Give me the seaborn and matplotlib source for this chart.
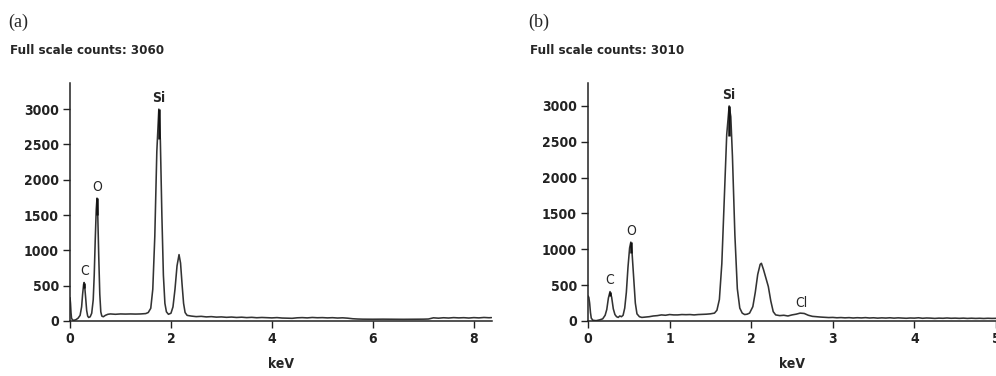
import matplotlib
matplotlib.use("Agg")
import matplotlib.pyplot as plt
from matplotlib import font_manager
import seaborn as sns

# EDS spectrum (a)
kev_a = [0.00, 0.01, 0.02, 0.03, 0.05, 0.08, 0.12, 0.16, 0.20, 0.23, 0.25, 0.27, 0.28, 0.29,
         0.31, 0.33, 0.35, 0.37, 0.40, 0.43, 0.46, 0.48, 0.50, 0.52, 0.535, 0.55, 0.57, 0.59,
         0.61, 0.63, 0.66, 0.70, 0.75, 0.80, 0.90, 1.00, 1.10, 1.20, 1.30, 1.40, 1.50, 1.55,
         1.60, 1.64, 1.68, 1.72, 1.76, 1.79, 1.82, 1.85, 1.88, 1.91, 1.95, 2.00, 2.04, 2.08,
         2.12, 2.16, 2.19, 2.22, 2.25, 2.28, 2.32,
         2.4, 2.5, 2.6, 2.7, 2.8, 2.9, 3.0, 3.1, 3.2, 3.3, 3.4, 3.5, 3.6, 3.7, 3.8, 3.9,
         4.0, 4.1, 4.2, 4.3, 4.4, 4.5, 4.6, 4.7, 4.8, 4.9, 5.0, 5.1, 5.2, 5.3, 5.4, 5.5,
         5.6, 5.7, 5.8, 6.0, 6.2, 6.4, 6.6, 6.8, 7.0, 7.1, 7.2, 7.3, 7.4, 7.5, 7.6, 7.7,
         7.8, 7.9, 8.0, 8.1, 8.2, 8.3, 8.35]
counts_a = [330, 250, 120, 40, 15, 10, 20, 40, 80, 200, 380, 520, 545, 500,
            330, 150, 70, 50, 60, 110, 300, 650, 1150, 1580, 1740, 1500, 900, 380,
            130, 70, 60, 80, 95, 100, 95, 100, 98, 100, 98, 100, 105, 120,
            180, 450, 1200, 2400, 3000, 2550, 1500, 650, 250, 130, 95, 110, 200, 450,
            780, 940, 820, 520, 250, 120, 80,
            70, 62, 66, 58, 62, 55, 58, 52, 56, 50, 54, 48, 52, 46, 50, 47,
            44, 48, 42, 40, 38, 45, 48, 44, 50, 46, 48, 44, 47, 42, 45, 40,
            32, 28, 26, 25, 26, 25, 24, 25, 26, 28, 45, 40, 46, 42, 48, 44,
            47, 42, 48, 44, 50, 46, 48]

# EDS spectrum (b)
kev_b = [0.00, 0.01, 0.02, 0.03, 0.04, 0.06, 0.10, 0.14, 0.18, 0.21, 0.23, 0.25, 0.27, 0.29,
         0.31, 0.33, 0.35, 0.37, 0.39, 0.41, 0.43, 0.45, 0.47, 0.49, 0.51, 0.525, 0.54, 0.56,
         0.58, 0.60, 0.63, 0.66, 0.70, 0.75, 0.80, 0.85, 0.90, 0.95, 1.00, 1.05, 1.10, 1.15,
         1.20, 1.25, 1.30, 1.35, 1.40, 1.45, 1.50, 1.55, 1.58, 1.61, 1.64, 1.67, 1.70, 1.73,
         1.75, 1.77, 1.80, 1.83, 1.86, 1.89, 1.92, 1.95, 1.98, 2.02, 2.05, 2.08, 2.11, 2.125,
         2.15, 2.18, 2.21, 2.24, 2.27, 2.30, 2.35, 2.40, 2.45, 2.50, 2.55, 2.60, 2.65, 2.70,
         2.75, 2.80, 2.85, 2.90, 2.95, 3.00, 3.05, 3.10, 3.15, 3.20, 3.25, 3.30, 3.35, 3.40,
         3.45, 3.50, 3.55, 3.60, 3.65, 3.70, 3.75, 3.80, 3.85, 3.90, 3.95, 4.00, 4.05, 4.10,
         4.15, 4.20, 4.25, 4.30, 4.35, 4.40, 4.45, 4.50, 4.55, 4.60, 4.65, 4.70, 4.75, 4.80,
         4.85, 4.90, 4.95, 5.00]
counts_b = [350, 330, 250, 120, 40, 10, 5, 15, 30, 80, 160, 320, 410, 330,
            170, 90, 60, 50, 70, 60, 80, 180, 400, 750, 1020, 1100, 950, 600,
            250, 100, 60, 50, 55, 60, 70, 75, 85, 80, 90, 85, 85, 90,
            88, 90, 85, 90, 92, 95, 100, 110, 150, 300, 800, 1700, 2600, 3000,
            2850, 2300, 1200, 450, 180, 110, 90, 95, 110, 200, 400, 650, 790, 805,
            720, 600, 480, 280, 130, 85, 75, 80, 70, 85, 95, 110, 105, 80,
            65, 60, 55, 52, 48, 50, 45, 48, 44, 47, 42, 46, 43, 47,
            42, 45, 40, 44, 41, 45, 40, 44, 41, 38, 42, 40, 45, 38,
            42, 40, 36, 40, 38, 42, 38, 40, 37, 40, 36, 39, 36, 38,
            35, 38, 36, 37]

panels = ["(a)", "(b)"]
full_scale = [3060, 3010]
peak_names = ["C", "O", "Si"]
peaks_a = [0.28, 0.535, 1.76]
peaks_b = [0.27, 0.525, 1.73]
xticks_a = [0, 2, 4, 6, 8]
xticks_b = [0, 1, 2, 3, 4, 5]
yticks = [0, 500, 1000, 1500, 2000, 2500, 3000]

sns.set_style("ticks")
names = {f.name for f in font_manager.fontManager.ttflist}
if "Liberation Sans Narrow" in names:
    narrow = ["Liberation Sans Narrow", "DejaVu Sans"]
    stretch = "normal"
else:
    narrow = ["DejaVu Sans", "Liberation Sans"]
    stretch = "condensed"
plt.rcParams["font.family"] = narrow
plt.rcParams["font.stretch"] = stretch

fig = plt.figure(figsize=(9.96, 3.76), dpi=100)
ax_a = fig.add_axes([70 / 996, 1 - 321 / 376, 422 / 996, 238 / 376])
ax_b = fig.add_axes([588 / 996, 1 - 321 / 376, 408 / 996, 238 / 376])

line_col = "#333333"
fsz = 10


def draw(ax, kev, counts, xmax, ymax, xticks, peaks, label, fs, x0, cl=None):
    sns.lineplot(x=kev, y=counts, ax=ax, color=line_col, linewidth=1.15, sort=False)
    ax.set_xlim(0, xmax)
    ax.set_ylim(0, ymax)
    ax.set_xticks(xticks)
    ax.set_yticks(yticks)
    ax.tick_params(axis="both", direction="out", length=5, width=1, colors="#222222",
                   labelsize=fsz, pad=3)
    for lab in ax.get_xticklabels() + ax.get_yticklabels():
        lab.set_fontweight("bold")
        lab.set_fontstretch(stretch)
    sns.despine(ax=ax)
    for s in ["left", "bottom"]:
        ax.spines[s].set_linewidth(1.1)
        ax.spines[s].set_color("#222222")
    ax.set_xlabel("keV", fontsize=fsz, fontweight="bold", labelpad=8)
    ax.set_ylabel("")
    # peak markers and labels
    for name, e in zip(peak_names, peaks):
        top = max(c for k, c in zip(kev, counts) if abs(k - e) < 0.011)
        ax.vlines(e, top * 0.86, top, color="#111111", linewidth=1.8)
        ax.text(e, top + 60, name, ha="center", va="bottom", fontsize=fsz,
                fontweight="bold" if name == "Si" else "normal")
    if cl is not None:
        ax.text(cl[0], cl[1], "Cl", ha="center", va="bottom", fontsize=fsz)
    fig.text(x0 / 996, 1 - 22 / 376, label, fontsize=13, family="Liberation Serif",
             va="center", ha="left", fontstretch="normal")
    fig.text((x0 + 2) / 996, 1 - 50 / 376, f"Full scale counts: {fs}", fontsize=9.5,
             fontweight="bold", va="center", ha="left")
    ax.patch.set_alpha(0)


draw(ax_a, kev_a, counts_a, 8.36, 3370, xticks_a, peaks_a, panels[0], full_scale[0], 8)
draw(ax_b, kev_b, counts_b, 5.0, 3320, xticks_b, peaks_b, panels[1], full_scale[1], 528,
     cl=(2.62, 150))

fig.savefig("out.png", dpi=100)
